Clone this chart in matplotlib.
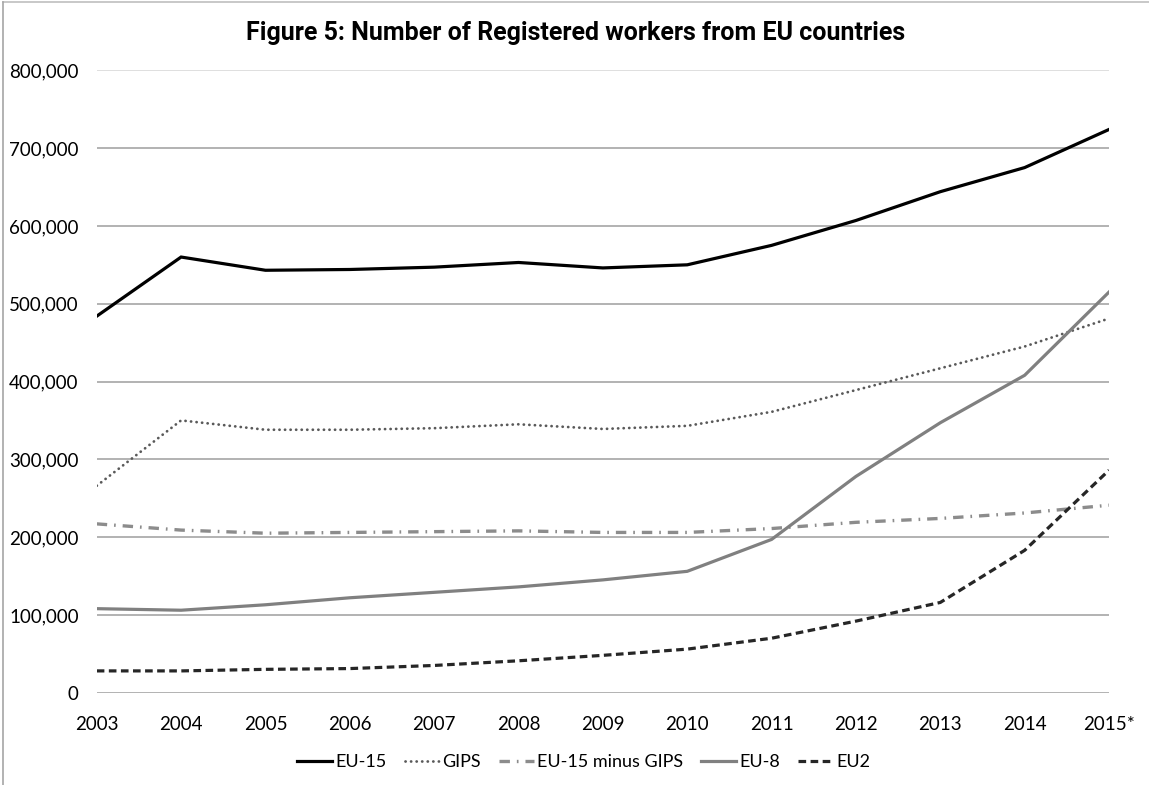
import matplotlib
matplotlib.use("Agg")
import matplotlib.pyplot as plt
from matplotlib import font_manager
from matplotlib.lines import Line2D

# ---- data -------------------------------------------------------------
years = ["2003", "2004", "2005", "2006", "2007", "2008", "2009",
         "2010", "2011", "2012", "2013", "2014", "2015*"]
eu15 = [484000, 560000, 543000, 544000, 547000, 553000, 546000,
        550000, 575000, 607000, 644000, 675000, 724000]
gips = [266000, 350000, 338000, 338000, 340000, 345000, 339000,
        343000, 361000, 389000, 417000, 445000, 481000]
eu15_minus_gips = [217000, 209000, 205000, 206000, 207000, 208000, 206000,
                   206000, 211000, 219000, 224000, 231000, 241000]
eu8 = [108000, 106000, 113000, 122000, 129000, 136000, 145000,
       156000, 197000, 278000, 347000, 408000, 515000]
eu2 = [28000, 28000, 30000, 31000, 35000, 41000, 48000,
       56000, 70000, 92000, 116000, 183000, 286000]
y_ticks = [0, 100000, 200000, 300000, 400000, 500000, 600000, 700000, 800000]

# ---- fonts ------------------------------------------------------------
available = {f.name for f in font_manager.fontManager.ttflist}


def pick(*names):
    for n in names:
        if n in available:
            return n
    return "DejaVu Sans"


body_font = pick("Liberation Sans Narrow", "Lato", "Roboto", "DejaVu Sans")
title_font = pick("Liberation Sans Narrow", "Roboto", "DejaVu Sans")

plt.rcParams["lines.scale_dashes"] = False

fig = plt.figure(figsize=(11.49, 7.85), dpi=100)
ax = fig.add_axes([0.0842, 0.1176, 0.9652 - 0.0842, 0.9104 - 0.1176])

x = list(range(len(years)))

ax.plot(x, eu15, color="#000000", lw=2.3, solid_joinstyle="miter",
        label="EU-15", zorder=5)
ax.plot(x, gips, color="#595959", lw=2.0, linestyle=(0, (0.1, 3.9)),
        dash_capstyle="round", label="GIPS", zorder=4)
ax.plot(x, eu15_minus_gips, color="#8c8c8c", lw=2.4,
        linestyle=(0, (7.5, 5.0, 1.2, 5.0)), dash_capstyle="butt",
        label="EU-15 minus GIPS", zorder=3)
ax.plot(x, eu8, color="#808080", lw=2.3, label="EU-8", zorder=4)
ax.plot(x, eu2, color="#262626", lw=2.3, linestyle=(0, (5.5, 3.2)),
        dash_capstyle="butt", label="EU2", zorder=5)

ax.set_xlim(0, len(years) - 1)
ax.set_ylim(0, 800000)
ax.set_xticks(x)
ax.set_xticklabels(years)
ax.set_yticks(y_ticks)
ax.set_yticklabels([f"{v:,}" for v in y_ticks])

for v in y_ticks:
    c = "#d9d9d9" if v == 800000 else "#a6a6a6"
    ax.axhline(v, color=c, lw=1.2, zorder=1)

for s in ax.spines.values():
    s.set_visible(False)
ax.tick_params(axis="both", length=0, labelsize=13.5, colors="#000000")
ax.tick_params(axis="x", pad=17)
ax.tick_params(axis="y", pad=13)
for lbl in ax.get_xticklabels() + ax.get_yticklabels():
    lbl.set_fontfamily(body_font)

fig.text(0.5005, 0.958, "Figure 5: Number of Registered workers from EU countries",
         ha="center", va="center", fontsize=18, fontweight="bold",
         family=title_font)

leg = fig.legend(loc="center", bbox_to_anchor=(0.508, 0.0293), ncol=5,
                 frameon=False, prop={"family": body_font, "size": 13},
                 handlelength=1.9, handletextpad=0.2, columnspacing=1.0)

# thin frame around the chart area
fig.add_artist(Line2D([0.0022, 1.0], [0.9975, 0.9975], color="#bfbfbf", lw=1.2))
fig.add_artist(Line2D([0.0022, 0.0022], [0.0, 0.9975], color="#a6a6a6", lw=1.2))

fig.savefig("out.png", dpi=100)
